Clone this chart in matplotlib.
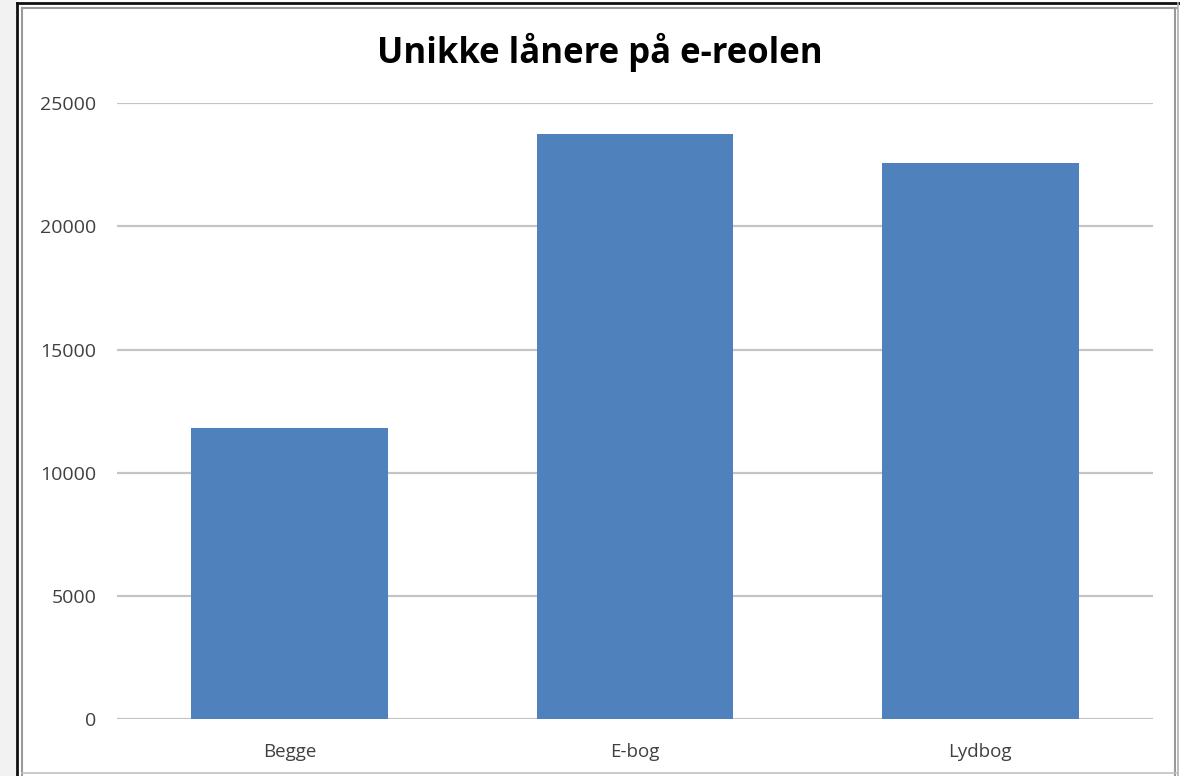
import matplotlib
matplotlib.use("Agg")
import matplotlib.pyplot as plt
from matplotlib.patches import Rectangle
from matplotlib.lines import Line2D

categories = ["Begge", "E-bog", "Lydbog"]
values = [11830, 23750, 22560]
yticks = [0, 5000, 10000, 15000, 20000, 25000]
title = "Unikke lånere på e-reolen"

plt.rcParams['font.family'] = ['Open Sans', 'DejaVu Sans']

W, H = 1180, 776
fig = plt.figure(figsize=(W / 100, H / 100), dpi=100)
fig.patch.set_facecolor("white")

def fx(px):
    return px / W

def fy(py):
    return 1 - py / H

# left shadow region
fig.patches.append(Rectangle((0, 0), fx(17), 1, transform=fig.transFigure,
                             facecolor="#f2f2f2", edgecolor="none", zorder=0))
# frame lines
frame_lines = [
    ((17, 17), (3, 776), "#111111", 2.0),
    ((17, 1180), (3, 3), "#111111", 2.0),
    ((22, 22), (8, 776), "#9a9a9a", 1.5),
    ((22, 1176), (8, 8), "#9a9a9a", 1.5),
    ((1175, 1175), (8, 776), "#9a9a9a", 1.5),
    ((1178, 1178), (3, 776), "#b0b0b0", 1.2),
    ((22, 1176), (773, 773), "#c0c0c0", 1.2),
]
for xs, ys, c, lw in frame_lines:
    fig.lines.append(Line2D([fx(x) for x in xs], [fy(y) for y in ys],
                            transform=fig.transFigure, color=c, linewidth=lw))

ax_left, ax_right = 117, 1153
ax_top, ax_bottom = 103.3, 719
ax = fig.add_axes([fx(ax_left), fy(ax_bottom), fx(ax_right - ax_left),
                   (ax_bottom - ax_top) / H])
ax.set_facecolor("white")
x = list(range(len(categories)))
ax.bar(x, values, width=0.57, color="#4F81BD", zorder=3)
ax.set_xlim(-0.5, len(categories) - 0.5)
ax.set_ylim(0, 25000)
ax.set_yticks(yticks)
ax.set_yticklabels([str(v) for v in yticks], fontsize=14, color="#404040")
ax.set_xticks(x)
ax.set_xticklabels(categories, fontsize=13.5, color="#404040")
ax.tick_params(axis="both", length=0)
ax.tick_params(axis="y", pad=15)
ax.tick_params(axis="x", pad=17)
for s in ["top", "right", "left", "bottom"]:
    ax.spines[s].set_visible(False)
ax.grid(axis="y", color="#c4c4c4", linewidth=1.6, zorder=0)
ax.set_axisbelow(True)

fig.text(0.5 * (fx(378) + fx(822)), fy(52), title, ha="center", va="center",
         fontsize=25, fontweight="bold", color="#000000")

fig.savefig("out.png", dpi=100)
